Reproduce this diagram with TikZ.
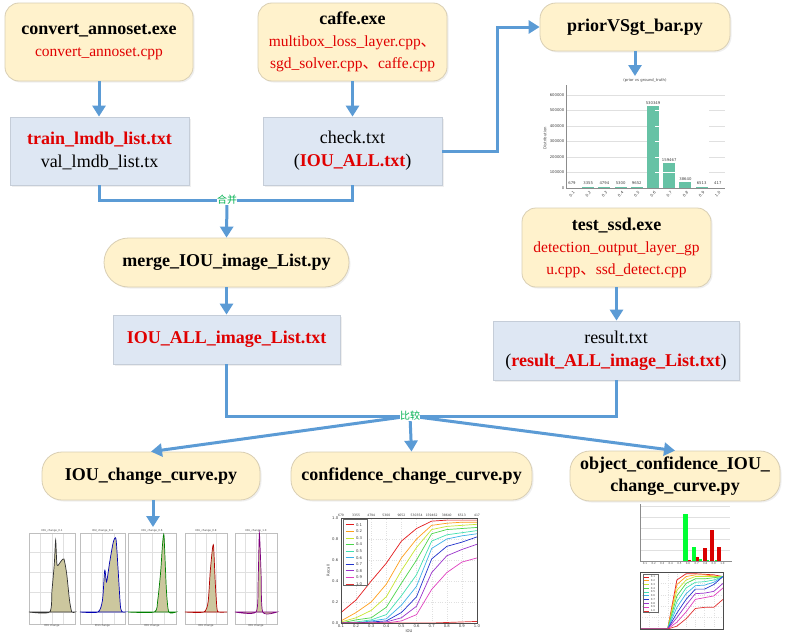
\documentclass[tikz,border=0pt]{standalone}
\usepackage{fontspec}
\setmainfont{Liberation Serif}
\newfontfamily\cjk{Noto Sans CJK SC}
\newfontfamily\chartfont{DejaVu Sans}
\usetikzlibrary{arrows.meta,calc,shadows}
\definecolor{flow}{HTML}{5B9BD5}
\definecolor{yfill}{HTML}{FFF2CC}
\definecolor{yline}{HTML}{D9CFB4}
\definecolor{bfill}{HTML}{DEE7F3}
\definecolor{bline}{HTML}{C5CDD8}
\definecolor{redt}{HTML}{E00000}
\definecolor{greent}{HTML}{00B050}
\definecolor{barg}{HTML}{66C2A5}
\definecolor{khaki}{HTML}{CCC79E}
\definecolor{k1}{HTML}{E41A1C}
\definecolor{k2}{HTML}{FF9F1C}
\definecolor{k3}{HTML}{C8E632}
\definecolor{k4}{HTML}{4CD64C}
\definecolor{k5}{HTML}{40E0B0}
\definecolor{k6}{HTML}{3BB0E8}
\definecolor{k7}{HTML}{2233CC}
\definecolor{k8}{HTML}{9933CC}
\definecolor{k9}{HTML}{E040C0}
\definecolor{k10}{HTML}{E03030}
\newcommand\redsub[1]{{\color{redt}\fontsize{15.5}{21}\selectfont #1}}
\newcommand\cjkcomma{{\cjk 、}}
\begin{document}
\begin{tikzpicture}[x=1pt,y=-1pt,
  ybox/.style={draw=yline, fill=yfill, line width=0.8pt, align=center,
    font=\fontsize{18}{22}\selectfont, inner sep=2pt,
    drop shadow={opacity=0.12, shadow xshift=1.5pt, shadow yshift=-1.5pt}},
  bbox/.style={draw=bline, fill=bfill, line width=0.8pt, align=center,
    font=\fontsize{18}{23}\selectfont, inner sep=2pt,
    drop shadow={opacity=0.12, shadow xshift=1.5pt, shadow yshift=-1.5pt}},
  flowline/.style={draw=flow, line width=3pt},
  flowarr/.style={flowline, -{Triangle[width=13pt,length=11pt]}},
  lbl/.style={text=greent, fill=white, inner sep=0.3pt, font=\cjk\fontsize{10}{11}\selectfont},
  tiny/.style={font=\chartfont\fontsize{3.8}{4}\selectfont, inner sep=0.5pt, text=black!75},
  tinier/.style={tiny, font=\chartfont\fontsize{3.1}{3.4}\selectfont},
  grid/.style={draw=black!12, line width=0.3pt},
  frame/.style={draw=black!45, line width=0.4pt},
  cv/.style={line width=0.7pt}
]
\useasboundingbox[fill=white] (0,0) rectangle (792,637);

% ---------------- boxes ----------------
\node[ybox, rounded corners=14pt, minimum width=188pt, minimum height=78pt] (ca) at (99,42)
  {\bfseries convert\_annoset.exe\\ \redsub{convert\_annoset.cpp}};
\node[ybox, rounded corners=14pt, minimum width=189pt, minimum height=78pt] (caffe) at (352.5,42)
  {\bfseries caffe.exe\\ \redsub{multibox\_loss\_layer.cpp\cjkcomma}\\ \redsub{sgd\_solver.cpp\cjkcomma caffe.cpp}};
\node[ybox, rounded corners=16pt, minimum width=190pt, minimum height=48pt] (prior) at (635,27)
  {\bfseries priorVSgt\_bar.py};
\node[bbox, minimum width=179pt, minimum height=68pt] (train) at (99.5,151)
  {{\color{redt}\bfseries train\_lmdb\_list.txt}\\ val\_lmdb\_list.tx};
\node[bbox, minimum width=179pt, minimum height=68pt] (check) at (352.5,151)
  {check.txt\\ ({\color{redt}\bfseries IOU\_ALL.txt})};
\node[ybox, rounded corners=24.5pt, minimum width=245pt, minimum height=49pt] (merge) at (226.5,262.5)
  {\bfseries merge\_IOU\_image\_List.py};
\node[bbox, minimum width=227pt, minimum height=49pt] (iouall) at (226.5,339.5)
  {\color{redt}\bfseries IOU\_ALL\_image\_List.txt};
\node[ybox, rounded corners=14pt, minimum width=189pt, minimum height=79pt] (test) at (616.5,247.5)
  {\bfseries test\_ssd.exe\\ \redsub{detection\_output\_layer\_gp}\\ \redsub{u.cpp\cjkcomma ssd\_detect.cpp}};
\node[bbox, minimum width=246pt, minimum height=59pt] (result) at (616,350.5)
  {result.txt\\ ({\color{redt}\bfseries result\_ALL\_image\_List.txt})};
\node[ybox, rounded corners=20pt, minimum width=218pt, minimum height=48pt] (iouc) at (151,476)
  {\bfseries IOU\_change\_curve.py};
\node[ybox, rounded corners=20pt, minimum width=241pt, minimum height=48pt] (confc) at (411.5,476)
  {\bfseries confidence\_change\_curve.py};
\node[ybox, rounded corners=20pt, minimum width=210pt, minimum height=50pt, font=\fontsize{18}{22}\selectfont] (objc) at (675,476)
  {\bfseries object\_confidence\_IOU\_\\ \bfseries change\_curve.py};

% ---------------- connectors ----------------
\coordinate (mj) at (227,200);
\coordinate (cj) at (410,416);
\coordinate (pchart) at (635,76);
\coordinate (hchart) at (153,527);
\draw[flowarr] (ca.south) -- (ca.south |- train.north);
\draw[flowarr] (caffe.south) -- (caffe.south |- check.north);
\draw[flowline] (train.south) -- ++(0,15) -| (check.south);
\draw[flowarr] (mj) -- (merge.north);
\draw[flowarr] (merge.south) -- (merge.south |- iouall.north);
\draw[flowarr] (check.east) -- ++(55,0) |- (prior.west);
\draw[flowarr] (prior.south) -- (pchart);
\draw[flowarr] (test.south) -- (test.south |- result.north);
\draw[flowline] (iouall.south) |- (cj) -| (result.south);
\draw[flowarr] (cj) -- (iouc.north);
\draw[flowarr] (cj) -- (confc.north);
\draw[flowarr] (cj) -- (objc.north);
\draw[flowarr] (iouc.south -| hchart) -- (hchart);
\node[lbl] (mlbl) at (mj) {合并};
\node[lbl] (clbl) at (cj) {比较};

% ---------------- prior vs gt bar chart ----------------
\node[tiny] (ptitle) at (645,81) {(prior vs ground\_truth)};
\foreach \v/\l in {0/0,1/100000,2/200000,3/300000,4/400000,5/500000,6/600000}{
  \draw[grid] (566,{188-15.5*\v}) -- (725,{188-15.5*\v});
  \node[tiny, anchor=east] at (565,{188-15.5*\v}) {\l};
}
\foreach \h/\l [count=\i from 0] in {0.679/679,3.355/3355,4.794/4794,5.300/5300,9.652/9652,530.349/530349,159.467/159467,38.640/38640,6.513/6513,0.417/417}{
  \fill[barg] ({572+16.2*\i-6},188) rectangle ({572+16.2*\i+6},{188-\h*0.155});
  \node[tiny, anchor=south] at ({572+16.2*\i},{min(185,188-\h*0.155-1)}) {\l};
}
\foreach \v in {1,2,3,4,5}{ \draw[white, line width=0.4pt] (655,{188-15.5*\v}) -- (709,{188-15.5*\v}); }
\foreach \l [count=\i from 0] in {0.1,0.2,0.3,0.4,0.5,0.6,0.7,0.8,0.9,1.0}{
  \node[tiny, rotate=45] at ({572+16.2*\i},194) {\l};
}
\draw[frame] (566,85) -- (566,188) -- (725,188);
\node[tiny, rotate=90] at (545,138) {Distribution};

% ---------------- IOU change histograms ----------------
\foreach \L/\W/\t in {29/46/0.1, 80/45/0.4, 128/48/0.6, 185/42/0.8, 235/42/1.0}{
  \begin{scope}[shift={(\L,612)}, x=\W pt]
    \foreach \g in {0.25,0.5,0.75}{ \draw[grid] (\g,-79) -- (\g,12); }
    \foreach \g in {-60,-40,-20,0}{ \draw[grid] (0,\g) -- (1,\g); }
    \draw[frame, draw=black!25] (0,-79) rectangle (1,12);
    \node[tiny, font=\chartfont\fontsize{2.6}{3}\selectfont, anchor=south] at (0.5,-79) {IOU\_change\_\t};
    \node[tiny, font=\chartfont\fontsize{2.6}{3}\selectfont, anchor=north] at (0.5,12) {IOU change};
  \end{scope}
}
\begin{scope}[shift={(29,612)}, x=46pt]
  \filldraw[fill=khaki, draw=black!80, cv] plot[smooth, tension=0.4] coordinates {(0,0) (0.45,0) (0.5,-22) (0.55,-48) (0.58,-72) (0.61,-47) (0.7,-51) (0.76,-53) (0.82,-38) (0.88,-12) (0.93,0) (1,0)} -- cycle;
\end{scope}
\begin{scope}[shift={(80,612)}, x=45pt]
  \filldraw[fill=khaki, draw=blue!70!black, cv] plot[smooth, tension=0.4] coordinates {(0,0) (0.4,0) (0.5,-12) (0.55,-42) (0.59,-30) (0.66,-50) (0.74,-70) (0.8,-73) (0.85,-40) (0.9,-5) (0.95,0) (1,0)} -- cycle;
\end{scope}
\begin{scope}[shift={(128,612)}, x=48pt]
  \filldraw[fill=khaki, draw=green!50!black, cv] plot[smooth, tension=0.4] coordinates {(0,0) (0.55,0) (0.62,-12) (0.68,-40) (0.72,-68) (0.75,-76) (0.8,-22) (0.85,0) (1,0)} -- cycle;
\end{scope}
\begin{scope}[shift={(185,612)}, x=42pt]
  \filldraw[fill=khaki, draw=red!70!black, cv] plot[smooth, tension=0.4] coordinates {(0,0) (0.45,0) (0.55,-10) (0.6,-40) (0.65,-62) (0.68,-66) (0.72,-30) (0.76,-4) (0.8,0) (1,0)} -- cycle;
\end{scope}
\begin{scope}[shift={(235,612)}, x=42pt]
  \filldraw[fill=khaki, draw=violet, cv] plot[smooth, tension=0.4] coordinates {(0,0) (0.5,0) (0.55,-30) (0.58,-79) (0.62,-40) (0.66,0) (1,0)} -- cycle;
\end{scope}

% ---------------- confidence change curve chart ----------------
\begin{scope}[shift={(341,623)}, x=151.1pt, y=105pt]
  \foreach \g in {0.1,0.2,...,0.85}{ \draw[grid, dotted] (\g,0) -- (\g,1); }
  \foreach \g in {0.2,0.4,0.6,0.8}{ \draw[grid, dotted] (0,\g) -- (0.9,\g); }
  \draw[cv, k1] plot coordinates {(0,0.10) (0.1,0.22) (0.2,0.40) (0.3,0.57) (0.4,0.78) (0.5,0.90) (0.6,0.97) (0.7,0.98) (0.8,0.98) (0.9,0.98)};
  \draw[cv, k2] plot coordinates {(0,0.02) (0.1,0.10) (0.2,0.20) (0.3,0.37) (0.4,0.62) (0.5,0.80) (0.6,0.93) (0.7,0.95) (0.8,0.96) (0.9,0.96)};
  \draw[cv, k3] plot coordinates {(0,0.01) (0.1,0.05) (0.2,0.12) (0.3,0.25) (0.4,0.50) (0.5,0.72) (0.6,0.89) (0.7,0.92) (0.8,0.93) (0.9,0.94)};
  \draw[cv, k4] plot coordinates {(0,0.00) (0.1,0.03) (0.2,0.05) (0.3,0.15) (0.4,0.38) (0.5,0.60) (0.6,0.85) (0.7,0.89) (0.8,0.90) (0.9,0.91)};
  \draw[cv, k5] plot coordinates {(0,0.00) (0.1,0.01) (0.2,0.03) (0.3,0.08) (0.4,0.26) (0.5,0.46) (0.6,0.78) (0.7,0.84) (0.8,0.86) (0.9,0.88)};
  \draw[cv, k6] plot coordinates {(0,0.00) (0.1,0.00) (0.2,0.02) (0.3,0.04) (0.4,0.17) (0.5,0.35) (0.6,0.71) (0.7,0.80) (0.8,0.83) (0.9,0.85)};
  \draw[cv, k7] plot coordinates {(0,0.00) (0.1,0.00) (0.2,0.01) (0.3,0.02) (0.4,0.10) (0.5,0.25) (0.6,0.61) (0.7,0.73) (0.8,0.77) (0.9,0.82)};
  \draw[cv, k8] plot coordinates {(0,0.00) (0.1,0.00) (0.2,0.00) (0.3,0.01) (0.4,0.05) (0.5,0.16) (0.6,0.48) (0.7,0.64) (0.8,0.70) (0.9,0.75)};
  \draw[cv, k9] plot coordinates {(0,0.00) (0.1,0.00) (0.2,0.00) (0.3,0.00) (0.4,0.02) (0.5,0.08) (0.6,0.32) (0.7,0.48) (0.8,0.58) (0.9,0.62)};
  \draw[cv, k10] plot coordinates {(0,0.00) (0.1,0.00) (0.2,0.00) (0.3,0.00) (0.4,0.00) (0.5,0.00) (0.6,0.00) (0.7,0.005) (0.8,0.01) (0.9,0.015)};
  \draw[frame, draw=black!70] (0,0) rectangle (0.9,1);
  \foreach \l [count=\i from 0] in {0.1,0.2,0.3,0.4,0.5,0.6,0.7,0.8,0.9,1.0}{
    \node[tiny, anchor=north] at ({0.1*\i},-0.012) {\l};
  }
  \foreach \l [count=\i from 0] in {679,3355,4794,5300,9652,530354,159462,38640,6513,417}{
    \node[tinier, anchor=south] at ({0.1*\i},1.012) {\l};
  }
  \foreach \l [count=\i from 0] in {0.0,0.2,0.4,0.6,0.8,1.0}{
    \node[tiny, anchor=east] at (-0.014,{0.2*\i}) {\l};
  }
  \node[tiny, anchor=north] at (0.45,-0.055) {IOU};
  \node[tiny, rotate=90] at (-0.085,0.5) {Recall};
  % legend
  \draw[fill=white, draw=black!60, line width=0.3pt] (0.013,0.985) rectangle (0.17,0.36);
  \foreach \l [count=\i from 1] in {0.1,0.2,0.3,0.4,0.5,0.6,0.7,0.8,0.9,1.0}{
    \draw[cv, k\i] (0.03,{0.985-0.0625*\i+0.0125}) -- (0.085,{0.985-0.0625*\i+0.0125});
    \node[tiny, anchor=west] at (0.095,{0.985-0.0625*\i+0.0125}) {\l};
  }
\end{scope}

% ---------------- object confidence chart (bars) ----------------
\begin{scope}[shift={(640,561)}]
  \foreach \g in {0,11,22,33,44,55}{ \draw[grid] (0,-\g) -- (90,-\g); }
  \fill[green!80!cyan] (43,0) rectangle (48,-47);
  \fill[red!85!black] (48,0) rectangle (51,-1.5);
  \fill[green!80!cyan] (52,0) rectangle (56,-14);
  \fill[red!85!black] (56,0) rectangle (59,-4);
  \fill[green!80!cyan] (59,0) rectangle (62,-2.5);
  \fill[red!85!black] (63,0) rectangle (67,-13);
  \fill[green!80!cyan] (67,0) rectangle (69,-1);
  \fill[red!85!black] (70,0) rectangle (74,-31);
  \fill[green!80!cyan] (75,0) rectangle (77,-0.8);
  \fill[red!85!black] (77,0) rectangle (81,-14);
  \draw[frame] (0,-57) -- (0,0) -- (92,0);
  \foreach \l [count=\i from 0] in {0.1,0.2,0.3,0.4,0.5,0.6,0.7,0.8,0.9,1.0}{
    \node[tiny, font=\chartfont\fontsize{2.6}{3}\selectfont, anchor=north] at ({5+8.6*\i},0.5) {\l};
  }
\end{scope}

% ---------------- object confidence chart (curves) ----------------
\begin{scope}[shift={(640,629)}, x=92.2pt, y=57pt]
  \foreach \g in {0.1,0.2,...,0.85}{ \draw[grid, dotted] (\g,0) -- (\g,1); }
  \foreach \g in {0.2,0.4,0.6,0.8}{ \draw[grid, dotted] (0,\g) -- (0.9,\g); }
  \draw[cv, k1] plot coordinates {(0,0) (0.3,0) (0.4,0.86) (0.5,0.97) (0.6,0.97) (0.7,0.96) (0.8,0.95) (0.9,0.92)};
  \draw[cv, k2] plot coordinates {(0,0) (0.3,0) (0.4,0.78) (0.5,0.92) (0.6,0.95) (0.7,0.95) (0.8,0.93) (0.9,0.92)};
  \draw[cv, k3] plot coordinates {(0,0) (0.3,0) (0.4,0.68) (0.5,0.86) (0.6,0.92) (0.7,0.92) (0.8,0.92) (0.9,0.92)};
  \draw[cv, k4] plot coordinates {(0,0) (0.3,0) (0.4,0.58) (0.5,0.80) (0.6,0.88) (0.7,0.88) (0.8,0.90) (0.9,0.92)};
  \draw[cv, k5] plot coordinates {(0,0) (0.3,0) (0.4,0.48) (0.5,0.72) (0.6,0.82) (0.7,0.83) (0.8,0.86) (0.9,0.92)};
  \draw[cv, k6] plot coordinates {(0,0) (0.3,0) (0.4,0.38) (0.5,0.62) (0.6,0.76) (0.7,0.77) (0.8,0.82) (0.9,0.92)};
  \draw[cv, k7] plot coordinates {(0,0) (0.3,0) (0.4,0.28) (0.5,0.52) (0.6,0.70) (0.7,0.70) (0.8,0.78) (0.9,0.92)};
  \draw[cv, k8] plot coordinates {(0,0) (0.3,0) (0.4,0.20) (0.5,0.42) (0.6,0.62) (0.7,0.63) (0.8,0.66) (0.9,0.80)};
  \draw[cv, k9] plot coordinates {(0,0) (0.3,0) (0.4,0.12) (0.5,0.30) (0.6,0.52) (0.7,0.55) (0.8,0.58) (0.9,0.72)};
  \draw[cv, k10] plot coordinates {(0,0) (0.3,0) (0.4,0.05) (0.5,0.18) (0.6,0.36) (0.7,0.38) (0.8,0.38) (0.9,0.52)};
  \draw[frame, draw=black!70] (0,0) rectangle (0.9,1);
  \draw[fill=white, draw=black!60, line width=0.3pt] (0.03,0.96) rectangle (0.2,0.3);
  \foreach \l [count=\i from 1] in {0.1,0.2,0.3,0.4,0.5,0.6,0.7,0.8,0.9,1.0}{
    \draw[cv, k\i, line width=0.5pt] (0.045,{0.96-0.066*\i+0.02}) -- (0.1,{0.96-0.066*\i+0.02});
    \node[tiny, font=\chartfont\fontsize{2.6}{3}\selectfont, anchor=west] at (0.11,{0.96-0.066*\i+0.02}) {\l};
  }
\end{scope}
\end{tikzpicture}
\end{document}
